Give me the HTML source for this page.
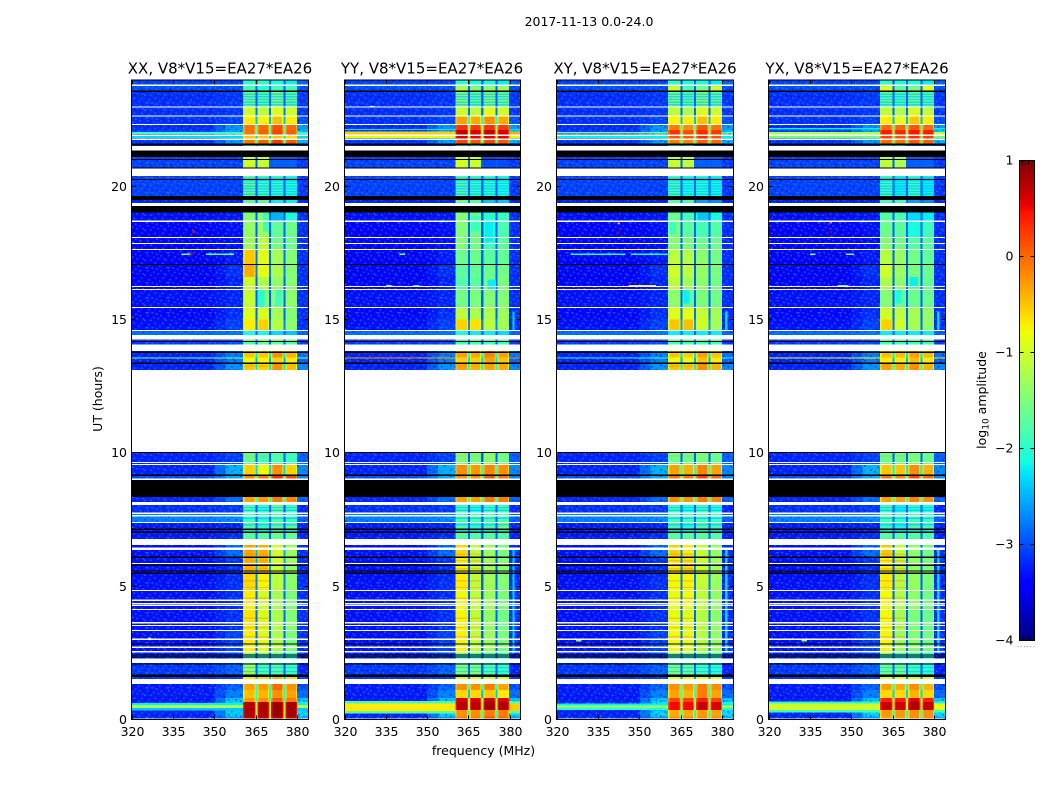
<!DOCTYPE html>
<html lang="en">
<head>
<meta charset="utf-8">
<title>2017-11-13 0.0-24.0</title>
<style>
html,body{margin:0;padding:0;background:#fff;width:1050px;height:800px;overflow:hidden}
svg{display:block}
text{font-family:"DejaVu Sans","Liberation Sans",sans-serif;fill:#000}
.tick{font-size:12.5px}
.title{font-size:15px;text-anchor:middle}
.label{font-size:12.5px;text-anchor:middle}
</style>
</head>
<body>
<svg id="chart" xmlns="http://www.w3.org/2000/svg" width="1050" height="800" viewBox="0 0 1050 800">
  <defs>
    <pattern id="speckle" patternUnits="userSpaceOnUse" width="21" height="15">
      <g fill="#0a8cff" opacity=".72">
        <rect x="0" y="0" width="1.5" height="1.5"/><rect x="6" y="1.5" width="1.5" height="1.5"/><rect x="13.5" y="0" width="1.5" height="1.5"/>
        <rect x="3" y="4.5" width="1.5" height="1.5"/><rect x="10.5" y="3" width="1.5" height="1.5"/><rect x="18" y="4.5" width="1.5" height="1.5"/>
        <rect x="7.5" y="7.5" width="1.5" height="1.5"/><rect x="15" y="7.5" width="1.5" height="1.5"/><rect x="1.5" y="9" width="1.5" height="1.5"/>
        <rect x="12" y="10.5" width="1.5" height="1.5"/><rect x="4.5" y="12" width="1.5" height="1.5"/><rect x="19.5" y="12" width="1.5" height="1.5"/>
        <rect x="9" y="13.5" width="1.5" height="1.5"/><rect x="16.5" y="3" width="1.5" height="1.5"/><rect x="0" y="12" width="1.5" height="1.5"/>
      </g>
      <g fill="#0000b8" opacity=".6">
        <rect x="3" y="0" width="1.5" height="1.5"/><rect x="16.5" y="1.5" width="1.5" height="1.5"/><rect x="9" y="4.5" width="1.5" height="1.5"/>
        <rect x="0" y="6" width="1.5" height="1.5"/><rect x="13.5" y="6" width="1.5" height="1.5"/><rect x="4.5" y="9" width="1.5" height="1.5"/>
        <rect x="18" y="9" width="1.5" height="1.5"/><rect x="9" y="10.5" width="1.5" height="1.5"/><rect x="15" y="13.5" width="1.5" height="1.5"/>
        <rect x="1.5" y="13.5" width="1.5" height="1.5"/>
      </g>
    </pattern>
    <clipPath id="clip-xx"><rect x="131.5" y="80" width="177" height="639.5"/></clipPath>
    <clipPath id="clip-yy"><rect x="344.5" y="80" width="176" height="639.5"/></clipPath>
    <clipPath id="clip-xy"><rect x="556.5" y="80" width="177" height="639.5"/></clipPath>
    <clipPath id="clip-yx"><rect x="768.5" y="80" width="177" height="639.5"/></clipPath>
  </defs>

  <text class="label" x="589" y="26">2017-11-13 0.0-24.0</text>
  <text class="title" x="220" y="73.5">XX, V8*V15=EA27*EA26</text>
  <text class="title" x="432" y="73.5">YY, V8*V15=EA27*EA26</text>
  <text class="title" x="645" y="73.5">XY, V8*V15=EA27*EA26</text>
  <text class="title" x="857" y="73.5">YX, V8*V15=EA27*EA26</text>
  <text class="label" x="483.5" y="755">frequency (MHz)</text>
  <text class="label" transform="translate(102 399) rotate(-90)">UT (hours)</text>
  <text class="label" transform="translate(986 400) rotate(-90)">log<tspan font-size="9" dy="2.5">10</tspan><tspan dy="-2.5"> amplitude</tspan></text>
  <g id="panels"></g>
  <g id="colorbar"></g>
</svg>

<script>
// Tick labels
const freqTicks = [320, 335, 350, 365, 380];
const hourTicks = [0, 5, 10, 15, 20];
const colorTicks = [1, 0, -1, -2, -3, -4];

// Frequency columns (MHz)
const bandRanges = [[360.4, 364.9], [365.6, 369.7], [370.5, 374.9], [375.6, 379.8]];
const lowRange = [320, 350];
const transitionRange = [350, 354];
const shoulderRange = [354, 360.4];
const tailRange = [379.8, 384];

// UT row edges (hours)
const timeEdges = [0,.11,.36,.66,.81,1.10,1.34,1.69,2.08,2.48,3.34,4.13,4.84,5.48,5.85,6.08,6.54,7.02,7.39,7.73,8.16,8.35,8.98,9.19,9.56,10.01,13.11,13.36,13.58,13.81,14.41,14.59,15.0,15.45,16.12,16.6,17.06,17.62,18.07,18.68,19.01,19.47,19.63,20.37,20.66,21.09,21.53,21.76,21.91,22.1,22.31,22.63,22.97,23.56,23.78,24];

// log10 amplitude of each row, off-band columns
const rowLow = [-3.2,-3.2,-3.2,-3.25,-3.25,-3.25,-3.15,-3.1,-3.2,-3.3,-3.3,-3.3,-3.3,-3.3,-3.3,-3.3,-3.25,-3.25,-2.75,-3.15,-3.2,null,-3,-3.2,-3.2,null,-3.2,-3.2,-3.2,-3.1,-2.85,-3.3,-3.35,-3.3,-3.4,-3.4,-3.4,-3.35,-3.4,-3.3,-3.2,null,-3.05,null,-3.05,-3.1,-3.1,-3.1,-3.05,-3.15,-3.15,-3.15,-3.15,-3,-3.05];
const rowShoulder = [-2.6,-2.35,-2.25,-2.4,-2.75,-2.9,-3.1,-2.9,-3.1,-3.05,-3.15,-3.15,-3.15,-3.15,-3.1,-2.85,-3.15,-3.2,-2.7,-3.1,-2.85,null,-2.5,-2.5,-3.05,null,-2.65,-2.75,-2.75,-3,-2.8,-3.05,-3.15,-3.2,-3.2,-3.15,-3.25,-3.3,-3.3,-3.25,-3.2,null,-3.05,null,-3.05,-3.1,-2.6,-2.65,-2.55,-2.65,-3.05,-3.1,-3.1,-3,-3.05];
const rowTail = [-2.5,-2.3,-2.1,-2.4,-2.85,-3,-3.1,-3.2,-3.2,-3.15,-3.15,-3.15,-3.15,-3.15,-3.15,-3.15,-3.2,-3.2,-2.9,-3.2,-2.9,null,-2.7,-2.7,-2.9,null,-2.7,-2.9,-2.8,-3.1,-2.9,-3.15,-3.15,-3.15,-3.15,-3.15,-3.15,-3.15,-3.15,-3.15,-3.2,null,-3.1,null,-3.1,-3.1,-2.5,-2.6,-2.4,-2.6,-3,-3.1,-3.1,-3,-2.9];

// log10 amplitude of the four bright bands, per row, per polarisation
const xxBands = [[.75,.75,.8,.75],[.8,.8,.9,.85],[.8,.8,.9,.85],[-.25,-.2,.1,-.1],[-.45,-.4,-.2,-.3],[-.3,-.25,0,-.2],[-.7,-.6,-.4,-.6],[-1.3,-1.85,-1.75,-1.9],[-1.9,-2,-2,-2.1],[-.7,-.9,-1.2,-1.5],[-.65,-.95,-1.2,-1.45],[-.7,-1,-1.25,-1.5],[-.6,-.75,-1.1,-1.4],[-.4,-.45,-1,-1.35],[-.35,-.4,-.95,-1.3],[-.3,-.35,-.95,-1.3],[-1.7,-1.7,-1.6,-1.65],[-1.75,-1.95,-1.7,-1.75],[-1.9,-2,-1.8,-1.9],[-1.8,-2,-1.7,-1.9],[-.3,-.25,-.1,-.15],null,[-.15,-.05,.3,.2],[-.55,-.8,-.2,-.55],[-1.65,-1.85,-1.75,-1.9],null,[-.5,-.55,-.2,-.45],[-.8,-.75,-.55,-.7],[-.5,-.5,-.2,-.4],[-1.7,-1.6,-1.6,-1.7],[-2.1,-2.1,-2.3,-2.4],[-.7,-.55,-1.15,-1.4],[-.9,-.95,-1.25,-1.45],[-1.05,-1.45,-1.4,-1.4],[-1,-1.2,-1.35,-1.45],[-.35,-.85,-1.2,-1.45],[-.5,-.9,-1.25,-1.45],[-1.3,-1.1,-1.55,-1.6],[-1.35,-1.3,-1.65,-1.6],[-1.45,-1.45,-1.85,-1.85],[-1.7,-1.7,-2.2,-2.2],null,[-1.7,-1.9,-1.95,-2.05],null,[-1,-1.05,-2.9,-2.9],[-1.8,-1.9,-2.6,-2.7],[-.05,.05,.25,.1],[-.5,-.5,-.5,-.6],[-.05,.05,.2,.05],[-.05,0,.15,0],[-.7,-.75,-.45,-.7],[-1,-1.1,-.9,-1],[-1.65,-1.75,-1.55,-1.7],[-1.85,-2,-1.9,-1.9],[-2,-2,-2.1,-2.2]];
const yyBands = [[-.1,-.1,.1,0],[-.2,-.2,-.1,-.1],[.75,.75,.85,.8],[.6,.6,.7,.6],[-.6,-.6,-.5,-.7],[-.2,-.2,-.1,-.3],[-.9,-.9,-.9,-.9],[-1.5,-1.5,-1.8,-1.95],[-2,-2.1,-2.1,-2.1],[-.75,-1.1,-1.3,-1.5],[-.75,-1.1,-1.35,-1.55],[-.8,-1.1,-1.3,-1.5],[-.7,-1.1,-1.25,-1.45],[-.75,-1.1,-1.25,-1.4],[-.8,-1.15,-1.25,-1.4],[-.6,-1.1,-1.3,-1.5],[-1.7,-1.75,-1.7,-1.75],[-1.85,-2,-1.85,-1.6],[-1.8,-1.8,-1.8,-1.8],[-1.9,-2.1,-1.9,-1.9],[-.3,-.3,-.1,-.1],null,[-.2,-.2,.1,-.05],[-.2,-.25,-.15,-.2],[-1.5,-1.55,-1.4,-1.55],null,[-.3,-.4,-.3,-.35],[-.55,-.55,-.3,-.5],[-.3,-.35,-.15,-.3],[-1.8,-1.8,-1.8,-1.8],[-2.1,-2.2,-2.2,-2.3],[-.55,-.65,-1.1,-1.25],[-1.1,-1.2,-1.2,-1.3],[-1.55,-1.5,-1.45,-1.45],[-1.75,-1.7,-1.55,-1.5],[-1.7,-1.65,-1.6,-1.55],[-1.6,-1.6,-1.7,-1.65],[-1.45,-1.55,-1.9,-1.7],[-1.45,-1.6,-2.05,-1.8],[-1.45,-1.6,-2,-1.9],[-1.6,-1.7,-2.4,-2.4],null,[-1.8,-1.95,-2,-2.1],null,[-.95,-1,-3,-3],[-2,-2,-2.8,-2.8],[.2,.1,.2,.1],[.6,.55,.6,.55],[.7,.6,.7,.6],[.3,.25,.3,.25],[-.3,-.35,-.2,-.35],[-1,-1.1,-.85,-1],[-1.5,-1.7,-1.5,-1.6],[-1.2,-1.5,-1.4,-1.3],[-2,-2.1,-2.1,-2.2]];
const xyBands = [[-.2,-.2,-.2,-.2],[-.35,-.35,-.25,-.3],[.5,.5,.7,.6],[.2,.2,.4,.2],[-.3,-.4,-.1,-.3],[-.2,-.25,-.1,-.2],[-.8,-.85,-.8,-.8],[-1.55,-1.65,-1.9,-2],[-2,-2.1,-2.1,-2.1],[-.8,-.85,-1.15,-1.35],[-.85,-.9,-1.15,-1.4],[-.85,-.8,-1.1,-1.35],[-.8,-.75,-1.05,-1.3],[-.7,-.6,-1,-1.25],[-.7,-.65,-1,-1.25],[-.55,-.7,-1.05,-1.35],[-1.7,-1.7,-1.7,-1.75],[-1.9,-2.05,-1.8,-1.9],[-1.85,-1.85,-1.85,-1.9],[-1.9,-2.1,-1.9,-2.05],[-.2,-.25,-.1,-.15],null,[-.05,-.1,.2,0],[-.3,-.4,-.15,-.3],[-1.6,-1.6,-1.5,-1.6],null,[-.5,-.5,-.2,-.4],[-.8,-.8,-.5,-.7],[-.5,-.55,-.3,-.5],[-1.8,-1.8,-1.8,-1.8],[-2.2,-2.2,-2.2,-2.2],[-.5,-.45,-1,-1.25],[-.9,-.85,-1.05,-1.25],[-1.4,-1.65,-1.5,-1.55],[-1.1,-1.25,-1.4,-1.55],[-1,-1.1,-1.35,-1.5],[-1.1,-1.15,-1.4,-1.55],[-1.45,-1.5,-1.6,-1.6],[-1.5,-1.7,-1.85,-1.75],[-1.6,-1.85,-2,-2.1],[-1.7,-1.8,-2.6,-2.7],null,[-1.85,-2.1,-2.05,-2.15],null,[-1.05,-1.1,-2.9,-2.9],[-1.9,-2,-2.8,-2.8],[-.1,-.15,.05,0],[.1,.05,.3,.1],[.3,.15,.35,.25],[-.1,-.2,.1,-.05],[-.75,-.7,-.45,-.7],[-1.1,-1.2,-.9,-1],[-1.6,-1.75,-1.5,-1.7],[-1,-1.8,-1.5,-1],[-2,-2.1,-2.1,-2.2]];
const yxBands = [[-.3,-.3,-.2,-.2],[-.25,-.25,-.2,-.2],[.7,.65,.8,.7],[.4,.4,.6,.4],[-.6,-.6,-.4,-.6],[-.3,-.35,-.2,-.4],[-.9,-.9,-.9,-.9],[-1.6,-1.6,-1.9,-2],[-2,-2.1,-2.1,-2.1],[-.75,-1.3,-1.45,-1.55],[-.8,-1.25,-1.5,-1.6],[-.8,-1.2,-1.4,-1.55],[-.7,-1.15,-1.35,-1.5],[-.7,-1.1,-1.35,-1.45],[-.75,-1.1,-1.35,-1.5],[-.5,-1.1,-1.4,-1.55],[-1.7,-1.75,-1.75,-1.8],[-1.95,-2.15,-1.85,-1.85],[-1.8,-1.95,-1.85,-1.9],[-1.9,-2.2,-2,-2.1],[-.3,-.3,-.15,-.2],null,[-.05,-.15,.15,0],[-.5,-.5,-.2,-.4],[-1.6,-1.6,-1.5,-1.6],null,[-.3,-.4,-.2,-.4],[-.7,-.7,-.45,-.7],[-.45,-.45,-.3,-.45],[-1.8,-1.8,-1.8,-1.8],[-2.2,-2.2,-2.2,-2.2],[-.55,-1,-1.25,-1.35],[-1,-1.1,-1.25,-1.35],[-1.45,-1.6,-1.6,-1.6],[-1.2,-1.4,-1.55,-1.65],[-1,-1.3,-1.5,-1.6],[-1.15,-1.3,-1.55,-1.65],[-1.45,-1.55,-1.75,-1.7],[-1.6,-1.7,-2.1,-1.9],[-1.75,-1.8,-2.2,-2.2],[-1.8,-1.9,-2.6,-2.7],null,[-1.9,-2.2,-1.95,-2.2],null,[-1.1,-1.2,-2.9,-2.9],[-1.9,-2,-2.8,-2.8],[0,-.05,.1,.05],[.2,.1,.3,.2],[.4,.35,.45,.4],[0,0,.1,0],[-.7,-.8,-.5,-.7],[-1.1,-1.2,-.95,-1.05],[-1.7,-1.85,-1.7,-1.8],[-.9,-1.7,-1.5,-.9],[-2,-2.1,-2.1,-2.2]];

// Broadband strips across off-band columns: start hour, end hour, log10 amplitude
const xxStrips = [[.34,.43,-2.4],[.43,.55,-1.25],[.55,.62,-2.2],[13.53,13.57,-1.6],[21.96,22.03,-1.9],[21.8,21.87,-2.3]];
const yyStrips = [[.22,.31,-1.7],[.31,.6,-.7],[.6,.7,-1.8],[13.53,13.57,-.25],[21.93,22.05,-.55],[21.8,21.88,-.9],[22.1,22.15,-2.3]];
const xyStrips = [[.36,.45,-2],[.45,.52,-1.2],[.52,.6,-2.2],[13.53,13.57,-2],[21.98,22.03,-1.5],[21.8,21.88,-2.2]];
const yxStrips = [[.27,.35,-1.9],[.35,.6,-1],[.6,.68,-2],[13.53,13.57,-.8],[21.93,22.03,-1.2],[21.8,21.88,-1.6],[22.12,22.17,-2.2]];

// Narrowband interference: start MHz, end MHz, hour, log10 amplitude
const xxSpikes = [[338,342,17.44,-1.5],[341,342,17.44,.4],[347,357,17.44,-1.6],[326,327,3.05,-1.2],[342,343,18.28,.5]];
const yySpikes = [[335,337,16.27,-1.6],[340,342,17.44,-1.5],[345,347,16.27,-1.8],[329,331,22.97,-1]];
const xySpikes = [[325,345,17.44,-2],[347,361,17.44,-2],[346,356,16.27,-.7],[342,343,18.28,.8],[342,343,18.6,-.4],[327,329,2.95,-1.4]];
const yxSpikes = [[335,337,17.44,-1.5],[348,351,17.44,-1.5],[342,343,18.28,.8],[342,343,18.62,-.1],[345,349,16.27,-1.6],[332,334,2.95,-1.3]];

// Dim blotches inside the bands: start MHz, end MHz, start hour, end hour, log10 amplitude
const xxPatches = [[365.6,368,15.45,16.1,-2],[372,374,15.5,16.1,-1.9],[367.5,369.7,18.3,19,-1.9],[370.5,374.9,18.7,19,-2.5],[375.6,379.8,18.7,19,-2.1]];
const yyPatches = [[371,374,17.9,18.7,-2.2],[366,369,18.3,18.9,-1.9],[372,375,16.1,16.5,-2.2]];
const xyPatches = [[361,363,18.2,18.7,-1.9],[366,368,15.6,16.1,-2.2],[371,375,18.7,19,-2.4]];
const yxPatches = [[371,375,18.7,19,-2.3],[376,379.8,18.7,19,-2.2],[366,368,15.6,16.1,-2.1],[371,374,16.2,16.6,-2.2]];

// Thin horizontal structure inside the bands (hours)
const bandNotches = [1.8,1.95,2.2,7.1,7.3,7.55,7.85,7.95,8.1,19.7,19.8,19.9,20,20.1,20.2,20.3,23.05,23.15,23.25,23.35,23.45];
const bandGlints = [3.1,3.45,3.8,4.55,4.95,5.2,5.65,5.95,6.2,13.25,9.88];

// Narrow spur near 381 MHz: start hour, end hour, log10 amplitude
const spurRanges = [[2.5,6.35,-2.3],[14.6,15.3,-2.3]];

// Flagged (white) and empty (black) time ranges, shared by all polarisations
const whiteBands = [[0,.045],[1.34,1.52],[2.11,2.29],[6.35,6.44],[6.54,6.77],[8.04,8.16],[10.01,13.11],[13.81,14.06],[14.25,14.41],[19.26,19.37],[20.37,20.66],[21.34,21.51]];
const whiteLines = [2.54,2.71,3.01,3.34,3.52,3.63,4.13,4.28,4.34,4.47,4.84,5.85,7.39,7.64,7.73,9.01,9.56,9.64,14.59,15.45,16.12,16.24,17.62,17.85,18.07,18.68,21.76,21.91,22.31,22.63,22.97,23.78];
const blackBands = [[1.6,1.69],[8.35,8.98],[9.13,9.19],[19.01,19.26],[19.47,19.63],[21.09,21.34],[21.53,21.6]];
const blackLines = [2.08,2.34,2.42,2.83,5.48,5.57,5.78,6.08,7.02,7.13,10.01,13.36,13.77,14.17,17.06,20.25,20.68,21,23.56];

const panels = [
  {key:'xx', left:131.5, width:177, bands:xxBands, strips:xxStrips, spikes:xxSpikes, patches:xxPatches, spurs:false},
  {key:'yy', left:344.5, width:176, bands:yyBands, strips:yyStrips, spikes:yySpikes, patches:yyPatches, spurs:true},
  {key:'xy', left:556.5, width:177, bands:xyBands, strips:xyStrips, spikes:xySpikes, patches:xyPatches, spurs:true},
  {key:'yx', left:768.5, width:177, bands:yxBands, strips:yxStrips, spikes:yxSpikes, patches:yxPatches, spurs:true}
];

const SVG_NS = 'http://www.w3.org/2000/svg';
const PLOT_BOTTOM = 719.5, PLOT_TOP = 80, PX_PER_HOUR = 26.67;
const F_MIN = 320, F_MAX = 384;
const CB_TOP = 160.5, CB_BOTTOM = 640.5, CB_LEFT = 1019.5, CB_RIGHT = 1034.5;
const LINE_WIDTH_H = 0.045;

function yOf(h){ return PLOT_BOTTOM - h * PX_PER_HOUR; }
function xOf(p, f){ return p.left + (f - F_MIN) / (F_MAX - F_MIN) * p.width; }
function cbY(v){ return CB_BOTTOM - (v + 4) / 5 * (CB_BOTTOM - CB_TOP); }

function interp(stops, t){
  for (let i = 1; i < stops.length; i++){
    if (t <= stops[i][0]){
      const a = stops[i-1], b = stops[i];
      return a[1] + (b[1]-a[1]) * (t-a[0]) / (b[0]-a[0]);
    }
  }
  return stops[stops.length-1][1];
}
const jetR = [[0,0],[.35,0],[.66,1],[.89,1],[1,.5]];
const jetG = [[0,0],[.125,0],[.375,1],[.64,1],[.91,0],[1,0]];
const jetB = [[0,.5],[.11,1],[.34,1],[.65,0],[1,0]];
function jet(v){
  const t = Math.min(1, Math.max(0, (v + 4) / 5));
  const c = s => Math.round(interp(s, t) * 255);
  return 'rgb(' + c(jetR) + ',' + c(jetG) + ',' + c(jetB) + ')';
}

function makeRect(parent, name, x, y, w, h, fill){
  const el = document.createElementNS(SVG_NS, 'rect');
  
  
  el.setAttribute('x', x);
  el.setAttribute('y', y);
  el.setAttribute('width', w);
  el.setAttribute('height', h);
  el.setAttribute('fill', fill);
  parent.appendChild(el);
  return el;
}
function makeLine(parent, name, x1, y1, x2, y2){
  const el = document.createElementNS(SVG_NS, 'line');
  
  
  el.setAttribute('x1', x1);
  el.setAttribute('y1', y1);
  el.setAttribute('x2', x2);
  el.setAttribute('y2', y2);
  el.setAttribute('stroke', '#000');
  el.setAttribute('stroke-width', '1');
  parent.appendChild(el);
  return el;
}
function makeText(parent, name, x, y, str, anchor){
  const el = document.createElementNS(SVG_NS, 'text');
  
  
  el.setAttribute('class', 'tick');
  el.setAttribute('x', x);
  el.setAttribute('y', y);
  el.setAttribute('text-anchor', anchor);
  el.textContent = str;
  parent.appendChild(el);
  return el;
}
function makeGroup(parent, name){
  const el = document.createElementNS(SVG_NS, 'g');
  
  
  parent.appendChild(el);
  return el;
}

function cell(g, p, name, f0, f1, h0, h1, v){
  const x0 = xOf(p, f0), x1 = xOf(p, f1), y0 = yOf(h1), y1 = yOf(h0);
  return makeRect(g, name, x0, y0, x1 - x0, y1 - y0, jet(v));
}

function drawPanel(p){
  const root = makeGroup(document.getElementById('panels'), 'panel-' + p.key);
  const heat = makeGroup(root, 'heatmap-' + p.key);
  heat.setAttribute('clip-path', 'url(#clip-' + p.key + ')');
  heat.setAttribute('shape-rendering', 'crispEdges');
  const nRows = timeEdges.length - 1;

  // off-band background columns
  for (let r = 0; r < nRows; r++){
    if (rowLow[r] === null) continue;
    const h0 = timeEdges[r], h1 = timeEdges[r+1];
    cell(heat, p, 'cell-low', lowRange[0], lowRange[1], h0, h1, rowLow[r]);
    cell(heat, p, 'cell-transition', transitionRange[0], transitionRange[1], h0, h1, (rowLow[r] + rowShoulder[r]) / 2);
    cell(heat, p, 'cell-shoulder', shoulderRange[0], shoulderRange[1], h0, h1, rowShoulder[r]);
    cell(heat, p, 'cell-tail', tailRange[0], tailRange[1], h0, h1, rowTail[r]);
  }

  // noise texture over the off-band columns
  const tx0 = xOf(p, F_MIN), tx1 = xOf(p, bandRanges[0][0]);
  makeRect(heat, 'noise-texture-low', tx0, PLOT_TOP, tx1 - tx0, PLOT_BOTTOM - PLOT_TOP, 'url(#speckle)');
  const ty0 = xOf(p, tailRange[0]), ty1 = xOf(p, F_MAX);
  makeRect(heat, 'noise-texture-tail', ty0, PLOT_TOP, ty1 - ty0, PLOT_BOTTOM - PLOT_TOP, 'url(#speckle)');

  // bright bands and the gaps between them
  for (let r = 0; r < nRows; r++){
    const row = p.bands[r];
    if (!row) continue;
    const h0 = timeEdges[r], h1 = timeEdges[r+1];
    const mean = (row[0] + row[1] + row[2] + row[3]) / 4;
    const gapLevel = Math.max(-2.9, mean - 1.8);
    cell(heat, p, 'cell-gap', bandRanges[0][1], bandRanges[3][0], h0, h1, gapLevel);
    for (let b = 0; b < row.length; b++){
      const v = row[b], f0 = bandRanges[b][0], f1 = bandRanges[b][1];
      const edge = v > -0.6 ? v - 0.35 : v - 0.05;
      cell(heat, p, 'cell-band-edge', f0, f1, h0, h1, edge);
      cell(heat, p, 'cell-band', f0 + 0.4, f1 - 0.4, h0, h1, v);
    }
  }

  // dim blotches inside the bands
  p.patches.forEach(function(s){
    cell(heat, p, 'band-patch', s[0], s[1], s[2], s[3], s[4]);
  });

  // thin structure inside the bands
  bandRanges.forEach(function(b){
    bandNotches.forEach(function(h){
      const m = cell(heat, p, 'band-notch', b[0], b[1], h - 0.025, h + 0.025, -2.5);
      m.setAttribute('opacity', '0.55');
    });
  });
  bandRanges.slice(0, 2).forEach(function(b){
    bandGlints.forEach(function(h){
      const m = cell(heat, p, 'band-glint', b[0], b[1], h - 0.025, h + 0.025, -0.25);
      m.setAttribute('opacity', '0.5');
    });
  });

  // broadband strips
  p.strips.forEach(function(s){
    const wing = s[2] > -1.5 ? s[2] + 0.15 : s[2];
    cell(heat, p, 'strip-low', F_MIN, bandRanges[0][0], s[0], s[1], s[2]);
    cell(heat, p, 'strip-tail', tailRange[0], F_MAX, s[0], s[1], wing);
  });

  // narrowband spikes
  p.spikes.forEach(function(s){
    cell(heat, p, 'rfi-spike', s[0], s[1], s[2] - 0.03, s[2] + 0.03, s[3]);
  });

  // spur column near 381 MHz
  if (p.spurs){
    spurRanges.forEach(function(s){
      cell(heat, p, 'spur-column', 381, 381.8, s[0], s[1], s[2]);
    });
  }

  // flagged and empty ranges
  whiteBands.forEach(function(b){
    makeRect(heat, 'flagged-range', p.left, yOf(b[1]), p.width, yOf(b[0]) - yOf(b[1]), '#fff');
  });
  whiteLines.forEach(function(h){
    makeRect(heat, 'flagged-line', p.left, yOf(h + LINE_WIDTH_H / 2), p.width, LINE_WIDTH_H * PX_PER_HOUR, '#fff');
  });
  blackBands.forEach(function(b){
    makeRect(heat, 'empty-range', p.left, yOf(b[1]), p.width, yOf(b[0]) - yOf(b[1]), '#000');
  });
  blackLines.forEach(function(h){
    makeRect(heat, 'empty-line', p.left, yOf(h + LINE_WIDTH_H / 2), p.width, LINE_WIDTH_H * PX_PER_HOUR, '#000');
  });

  // axes
  const axes = makeGroup(root, 'axes-' + p.key);
  const frame = makeRect(axes, 'frame-' + p.key, p.left, PLOT_TOP, p.width, PLOT_BOTTOM - PLOT_TOP, 'none');
  frame.setAttribute('stroke', '#000');
  frame.setAttribute('stroke-width', '1');
  frame.setAttribute('shape-rendering', 'crispEdges');
  freqTicks.forEach(function(f){
    const x = Math.round(xOf(p, f)) + 0.5;
    makeLine(axes, 'x-tick', x, PLOT_BOTTOM, x, PLOT_BOTTOM - 4);
    makeLine(axes, 'x-tick-top', x, PLOT_TOP, x, PLOT_TOP + 4);
    makeText(axes, 'x-tick-label', x, 736, String(f), 'middle');
  });
  hourTicks.forEach(function(h){
    const y = Math.round(yOf(h) - 0.5) + 0.5;
    if (h > 0){
      makeLine(axes, 'y-tick', p.left, y, p.left + 4, y);
      makeLine(axes, 'y-tick-right', p.left + p.width, y, p.left + p.width - 4, y);
    }
    makeText(axes, 'y-tick-label', p.left - 4.5, y + 4.5, String(h), 'end');
  });
}

function drawColorbar(){
  const g = document.getElementById('colorbar');
  const steps = 240;
  const ramp = makeGroup(g, 'colorbar-ramp');
  ramp.setAttribute('shape-rendering', 'crispEdges');
  for (let i = 0; i < steps; i++){
    const v0 = -4 + 5 * i / steps, v1 = -4 + 5 * (i + 1) / steps;
    makeRect(ramp, 'colorbar-slice', CB_LEFT, cbY(v1), CB_RIGHT - CB_LEFT, cbY(v0) - cbY(v1) + 0.5, jet((v0 + v1) / 2));
  }
  const frame = makeRect(g, 'colorbar-frame', CB_LEFT, CB_TOP, CB_RIGHT - CB_LEFT, CB_BOTTOM - CB_TOP, 'none');
  frame.setAttribute('stroke', '#000');
  frame.setAttribute('stroke-width', '1');
  colorTicks.forEach(function(v){
    const y = Math.round(cbY(v) - 0.5) + 0.5;
    if (v > -4 && v < 1){
      makeLine(g, 'colorbar-tick', CB_LEFT, y, CB_LEFT + 4, y);
      makeLine(g, 'colorbar-tick-right', CB_RIGHT, y, CB_RIGHT - 4, y);
    }
    const label = v < 0 ? '\u2212' + Math.abs(v) : String(v);
    makeText(g, 'colorbar-tick-label', 1013.5, y + 4, label, 'end');
  });
  for (let i = 1; i <= 4; i++){
    const x = CB_LEFT + i * 3;
    makeLine(g, 'colorbar-minor-tick-top', x, CB_TOP, x, CB_TOP + 4);
    makeLine(g, 'colorbar-minor-tick-bottom', x, CB_BOTTOM, x, CB_BOTTOM - 4);
  }
  for (let i = 0; i < 6; i++){
    makeRect(g, 'colorbar-minor-dot', 1017.5 + i * 3.2, 646, 1, 1, '#999');
  }
}

panels.forEach(drawPanel);
drawColorbar();
</script>
</body>
</html>
